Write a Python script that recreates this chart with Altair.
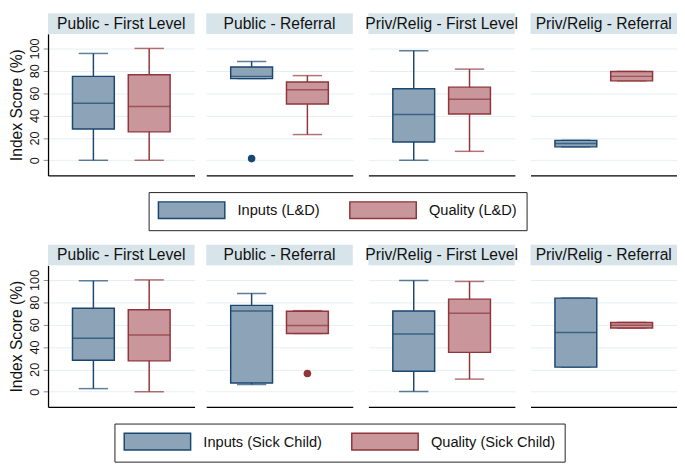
import altair as alt
import pandas as pd

panels = ["Public - First Level", "Public - Referral",
          "Priv/Relig - First Level", "Priv/Relig - Referral"]

# box stats per panel: [low whisker, q1, median, q3, high whisker]
ld_series = ["Inputs (L&D)", "Quality (L&D)"]
ld_inputs = [[0, 28, 51, 75, 95.5],
             [73, 73, 75, 83.3, 88.4],
             [0, 16.4, 41, 64, 98],
             [12, 12, 15, 17.8, 17.8]]
ld_quality = [[0, 25.4, 48, 76.5, 100],
              [23, 50.3, 63, 70, 75.7],
              [8, 41.3, 54.6, 65.4, 81.5],
              [71, 71, 75, 79.4, 79.4]]
ld_outliers = [("Public - Referral", "Inputs (L&D)", 1.5)]

sc_series = ["Inputs (Sick Child)", "Quality (Sick Child)"]
sc_inputs = [[2.8, 28.2, 47.9, 74.7, 99.2],
             [6.5, 7.9, 72.1, 77.2, 87.9],
             [0.3, 18.3, 51.6, 72.1, 99.5],
             [22, 22, 53, 83.7, 83.7]]
sc_quality = [[0, 27.6, 50.7, 73.3, 100],
              [52.1, 52.1, 59.2, 71.9, 72.5],
              [11.3, 35.2, 70.2, 82.8, 98.6],
              [56.9, 56.9, 59.5, 62, 62]]
sc_outliers = [("Public - Referral", "Quality (Sick Child)", 16.3)]

FILLS = ["#8da3b8", "#c9979b"]
STROKES = ["#1a476f", "#90353b"]
HEADER_BG = "#d7e4ea"
FONT = "Liberation Sans"
W, H = 150, 145
HDR = 21
YDOM = [-13.6, 113]
YVALS = [0, 20, 40, 60, 80, 100]


def build_row(series, inputs, quality, outliers):
    rows = []
    for i, p in enumerate(panels):
        for s, stats in zip(series, [inputs[i], quality[i]]):
            rows.append(dict(panel=p, series=s, lo=stats[0], q1=stats[1],
                             med=stats[2], q3=stats[3], hi=stats[4]))
    df = pd.DataFrame(rows)
    odf = pd.DataFrame(outliers, columns=["panel", "series", "v"])

    fill_enc = alt.Fill("series:N", scale=alt.Scale(domain=series, range=FILLS), legend=None)
    stroke_enc = alt.Stroke("series:N", scale=alt.Scale(domain=series, range=STROKES), legend=None)
    color_enc = alt.Color("series:N", scale=alt.Scale(domain=series, range=STROKES), legend=None)

    charts = []
    for i, p in enumerate(panels):
        pdf = df[df.panel == p]
        podf = odf[odf.panel == p]
        first = i == 0
        if first:
            yax = alt.Axis(values=YVALS, title="Index Score (%)",
                           labelAngle=270, labelAlign="center", labelBaseline="bottom",
                           labelOverlap=False, labelFontSize=13, labelPadding=2,
                           tickSize=5, tickColor="#8a8a8a",
                           domain=True, domainColor="black", domainWidth=1.3,
                           titleFontSize=16, titleFontWeight="normal", titlePadding=4,
                           grid=True)
        else:
            yax = alt.Axis(values=YVALS, labels=False, ticks=False,
                           domain=False, title=None, grid=True)
        xenc = alt.X("series:N", sort=series,
                     scale=alt.Scale(domain=series, paddingInner=0.25, paddingOuter=0.438),
                     axis=alt.Axis(labels=False, ticks=False, title=None, domain=True,
                                   domainColor="black", domainWidth=1.3, grid=False))
        yscale = alt.Scale(domain=YDOM, nice=False, zero=False)
        base = alt.Chart(pdf)
        whisk = base.mark_rule(strokeWidth=1.5).encode(
            x=xenc, y=alt.Y("lo:Q", scale=yscale, axis=yax), y2="hi:Q", color=color_enc)
        cap_lo = base.mark_tick(size=30, thickness=1.5).encode(
            x=xenc, y=alt.Y("lo:Q", scale=yscale, axis=yax), color=color_enc)
        cap_hi = base.mark_tick(size=30, thickness=1.5).encode(
            x=xenc, y=alt.Y("hi:Q", scale=yscale, axis=yax), color=color_enc)
        box = base.mark_bar(strokeWidth=1.5).encode(
            x=xenc, y=alt.Y("q1:Q", scale=yscale, axis=yax), y2="q3:Q",
            fill=fill_enc, stroke=stroke_enc)
        med = base.mark_tick(size=43, thickness=1.5).encode(
            x=xenc, y=alt.Y("med:Q", scale=yscale, axis=yax), color=color_enc)
        layers = [whisk, cap_lo, cap_hi, box, med]
        if len(podf):
            pts = alt.Chart(podf).mark_circle(size=60, opacity=1).encode(
                x=xenc, y=alt.Y("v:Q", scale=yscale, axis=yax), color=color_enc)
            layers.append(pts)
        hdr_df = pd.DataFrame({"t": [p]})
        hdr = alt.Chart(hdr_df).mark_rect(color=HEADER_BG).encode(
            x=alt.value(0), x2=alt.value(W), y=alt.value(-HDR), y2=alt.value(0))
        txt = alt.Chart(hdr_df).mark_text(fontSize=16, font=FONT, color="#111111",
                                          baseline="middle", align="center").encode(
            text="t:N", x=alt.value(W / 2), y=alt.value(-HDR / 2))
        layers += [hdr, txt]
        charts.append(alt.layer(*layers).properties(width=W, height=H))
    return alt.hconcat(*charts, spacing=12)


def build_legend(series, legend_x):
    ldf = pd.DataFrame({"series": series})
    leg = alt.Legend(title=None, orient="none", legendX=legend_x, legendY=2,
                     direction="horizontal")
    return alt.Chart(ldf).mark_rect(strokeWidth=1.5).encode(
        x=alt.value(0), x2=alt.value(0), y=alt.value(0), y2=alt.value(0),
        fill=alt.Fill("series:N", scale=alt.Scale(domain=series, range=FILLS), legend=leg),
        stroke=alt.Stroke("series:N", scale=alt.Scale(domain=series, range=STROKES), legend=leg),
    ).properties(width=4 * W + 36, height=1)


row1 = build_row(ld_series, ld_inputs, ld_quality, ld_outliers)
leg1 = build_legend(ld_series, 103)
row2 = build_row(sc_series, sc_inputs, sc_quality, sc_outliers)
leg2 = build_legend(sc_series, 68)

chart = alt.vconcat(row1, leg1, row2, leg2, spacing=14).resolve_scale(
    fill="independent", stroke="independent", color="independent"
).properties(padding=0).configure(
    font=FONT).configure_view(strokeWidth=0).configure_axis(
    gridColor="#e6eef1", gridWidth=1, labelFont=FONT, titleFont=FONT, labelColor="#111111",
    titleColor="#111111"
).configure_legend(
    labelFont=FONT, labelFontSize=15, labelColor="#111111", labelLimit=400,
    symbolType="M-1,-1H7V1H-1Z", symbolSize=289, symbolStrokeWidth=1.5,
    symbolOpacity=1, strokeColor="#222222", padding=9, columnPadding=27, labelOffset=63,
    symbolOffset=0
)

chart.save("out.html", embed_options={"renderer": "svg", "actions": False})
